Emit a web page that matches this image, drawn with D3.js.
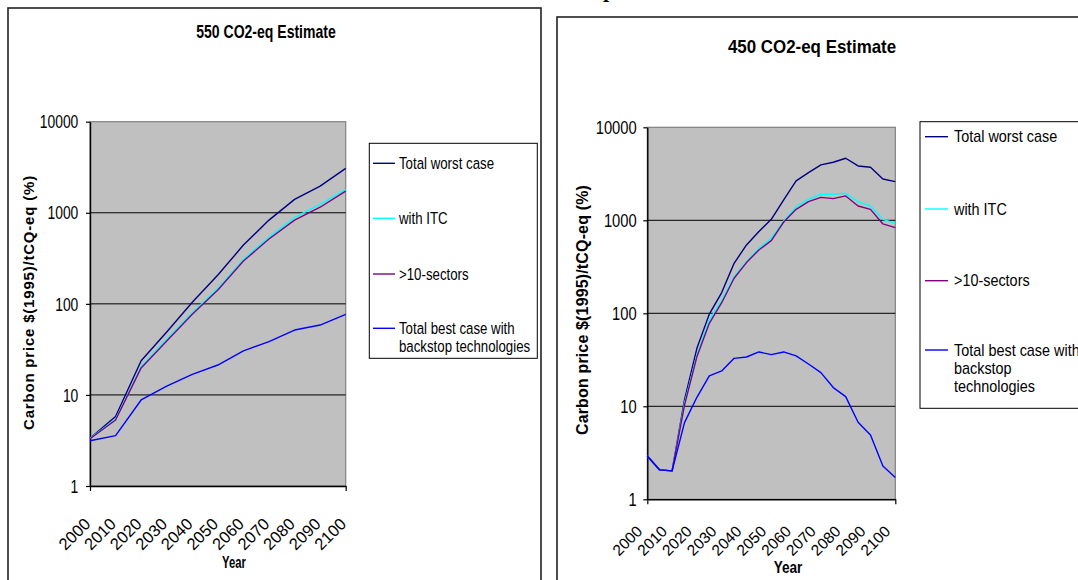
<!DOCTYPE html>
<html>
<head>
<meta charset="utf-8">
<script src="https://cdn.jsdelivr.net/npm/d3@7"></script>
<style>
  html, body { margin: 0; padding: 0; background: #fff; }
  svg { display: block; }
</style>
</head>
<body>
<div id="chart"></div>
<script>
// categories and tick labels
const yTicks = [1, 10, 100, 1000, 10000];
const xTickYears = [2000, 2010, 2020, 2030, 2040, 2050, 2060, 2070, 2080, 2090, 2100];
const seriesNames = ["Total worst case", "with ITC", ">10-sectors", "Total best case with backstop technologies"];
const seriesColors = ["#000080", "#00ffff", "#800080", "#0000ff"];

// 550 CO2-eq, one point every 10 years
const years550 = [2000, 2010, 2020, 2030, 2040, 2050, 2060, 2070, 2080, 2090, 2100];
const worst550 = [3.34, 5.8, 23.7, 49, 104, 207, 442, 831, 1403, 1964, 3070];
const itc550 = [3.34, 5.4, 20.4, 40.8, 80, 148, 308, 537, 890, 1237, 1806];
const sectors550 = [3.3, 5.3, 19.8, 39, 77, 142, 295, 515, 830, 1150, 1730];
const best550 = [3.14, 3.57, 8.8, 12.5, 16.8, 21.3, 30.5, 38.4, 51.6, 58.5, 76.7];

// 450 CO2-eq, one point every 5 years
const years450 = [2000, 2005, 2010, 2015, 2020, 2025, 2030, 2035, 2040, 2045, 2050,
                  2055, 2060, 2065, 2070, 2075, 2080, 2085, 2090, 2095, 2100];
const worst450 = [2.92, 2.07, 2.02, 11.7, 42, 98, 167, 345, 543, 756, 1025,
                  1655, 2650, 3260, 3940, 4210, 4645, 3840, 3715, 2782, 2606];
const itc450 = [2.92, 2.07, 2.02, 10.8, 35.6, 84.8, 137, 248, 359, 500, 640,
                984, 1403, 1683, 1905, 1905, 1951, 1585, 1426, 1025, 929];
const sectors450 = [2.92, 2.07, 2.02, 10.3, 34.2, 78, 130, 238, 351, 480, 604,
                    959, 1312, 1585, 1766, 1710, 1828, 1426, 1312, 914, 834];
const best450 = [2.92, 2.07, 2.02, 6.67, 12.5, 21.2, 24, 32.8, 33.9, 38.4, 36,
                 38.4, 34.8, 28.5, 23, 15.9, 12.7, 6.73, 4.92, 2.28, 1.72];

const W = 1078, H = 580;
const FONT = "'Liberation Sans', Arial, Helvetica, sans-serif";

const svg = d3.select("#chart").append("svg")
  .attr("width", W)
  .attr("height", H);

// text helper: squeezes horizontally like the scanned original
function txt(g, x, y, s, o) {
  return g.append("text")
    .attr("transform", `translate(${x},${y}) scale(${o.sx || 1},1)${o.rot ? ` rotate(${o.rot})` : ""}`)
    .attr("font-family", o.family || FONT)
    .attr("font-size", o.size)
    .attr("font-weight", o.bold ? "bold" : "normal")
    .attr("text-anchor", o.anchor || "start")
    .attr("dominant-baseline", o.baseline || "auto")
    .attr("letter-spacing", o.ls || 0)
    .attr("fill", "#000")
    .text(s);
}

// cut-off text of the page above
txt(svg, 603, -3, "p", { size: 22, bold: true, family: "'Liberation Serif', 'Times New Roman', serif" });

function drawPanel(p) {
  const g = svg.append("g");

  // chart frame
  g.append("rect")
    .attr("x", p.frame[0]).attr("y", p.frame[1])
    .attr("width", p.frame[2]).attr("height", p.frame[3])
    .attr("fill", "#fff").attr("stroke", "#222").attr("stroke-width", 1.6);

  const x = d3.scaleLinear().domain([2000, 2100]).range([p.left, p.right]);
  const y = d3.scaleLog().domain([1, 10000]).range([p.bottom, p.top]);

  g.append("rect")
    .attr("x", p.left).attr("y", p.top)
    .attr("width", p.right - p.left).attr("height", p.bottom - p.top)
    .attr("fill", "#c0c0c0").attr("stroke", "#808080").attr("stroke-width", 1.2);

  // gridlines
  g.selectAll(".grid").data([10, 100, 1000]).enter().append("line")
    .attr("x1", p.left).attr("x2", p.right)
    .attr("y1", d => y(d)).attr("y2", d => y(d))
    .attr("stroke", "#000").attr("stroke-width", 1);

  // axes
  const ya = g.append("g")
    .attr("transform", `translate(${p.left},0)`)
    .call(d3.axisLeft(y).tickValues(yTicks).tickSize(4).tickSizeOuter(0).tickFormat(""));
  const xa = g.append("g")
    .attr("transform", `translate(0,${p.bottom})`)
    .call(d3.axisBottom(x).tickValues([2000, 2100]).tickSize(5).tickSizeOuter(0).tickFormat(""));
  [ya, xa].forEach(a => {
    a.select(".domain").attr("stroke", "#000").attr("stroke-width", 1.4);
    a.selectAll(".tick line").attr("stroke", "#000").attr("stroke-width", 1.2);
  });

  // y tick labels
  yTicks.forEach(v => {
    txt(g, p.left - p.yLabelGap, y(v), String(v),
      { size: 18, sx: p.sxTick, anchor: "end", baseline: "central" });
  });

  // x tick labels, rotated
  xTickYears.forEach(yr => {
    txt(g, x(yr) + p.xLabDx, p.bottom + p.xLabDy, String(yr),
      { size: p.xLabSize, anchor: "end", rot: -45 });
  });

  // lines
  const line = d3.line()
    .x(d => x(d[0]))
    .y(d => y(d[1]));
  p.series.forEach((vals, i) => {
    g.append("path")
      .datum(p.years.map((yr, j) => [yr, vals[j]]))
      .attr("d", line)
      .attr("fill", "none")
      .attr("stroke", seriesColors[i])
      .attr("stroke-width", 1.4)
      .attr("stroke-linejoin", "round");
  });

  // titles
  txt(g, p.title[0], p.title[1], p.titleText, { size: 18, bold: true, sx: p.sxTitle, anchor: "middle" });
  txt(g, p.yTitle[0], p.yTitle[1], "Carbon price $(1995)/tCQ-eq  (%)",
    { size: p.yTitleSize, bold: true, rot: -90, anchor: "middle", baseline: "central", ls: p.yTitleLs });
  txt(g, p.xTitle[0], p.xTitle[1], "Year", { size: 17, bold: true, sx: p.sxTitle * 0.85, anchor: "middle" });

  // legend
  const L = p.legend;
  g.append("rect")
    .attr("x", L.box[0]).attr("y", L.box[1])
    .attr("width", L.box[2]).attr("height", L.box[3])
    .attr("fill", "#fff").attr("stroke", "#000").attr("stroke-width", 1);
  seriesNames.forEach((name, i) => {
    const ly = L.rows[i];
    g.append("line")
      .attr("x1", L.line[0]).attr("x2", L.line[1])
      .attr("y1", ly).attr("y2", ly)
      .attr("stroke", seriesColors[i]).attr("stroke-width", 1.4);
    const lines = L.wrap[i];
    lines.forEach((s, k) => {
      txt(g, L.textX, ly + k * L.lineH, s, { size: L.size, sx: L.sx, baseline: "central" });
    });
  });
}

drawPanel({
  frame: [8, 8, 533, 600],
  left: 90, right: 345.7, top: 121.7, bottom: 486,
  years: years550,
  series: [worst550, itc550, sectors550, best550],
  titleText: "550 CO2-eq Estimate",
  title: [266, 37.5], sxTitle: 0.78,
  yTitle: [28.5, 302.5], yTitleSize: 15, yTitleLs: 0.8,
  xTitle: [234, 568],
  sxTick: 0.77, yLabelGap: 11.7,
  xLabDx: 1.5, xLabDy: 39, xLabSize: 16.5,
  legend: {
    box: [369.3, 143.3, 168, 215],
    line: [373, 395], textX: 399, size: 17, sx: 0.78, lineH: 17.7,
    rows: [163.3, 218.3, 274, 328.3],
    wrap: [["Total worst case"], ["with ITC"], [">10-sectors"], ["Total best case with", "backstop technologies"]]
  }
});

drawPanel({
  frame: [557, 17, 600, 600],
  left: 647.3, right: 895.3, top: 127.3, bottom: 499.3,
  years: years450,
  series: [worst450, itc450, sectors450, best450],
  titleText: "450 CO2-eq Estimate",
  title: [812, 53], sxTitle: 0.94,
  yTitle: [582.5, 310], yTitleSize: 16, yTitleLs: 0.15,
  xTitle: [788, 573],
  sxTick: 0.82, yLabelGap: 10.6,
  xLabDx: -4, xLabDy: 33, xLabSize: 15.5,
  legend: {
    box: [920, 121.7, 200, 286.6],
    line: [925, 948], textX: 954, size: 16, sx: 0.9, lineH: 18.3,
    rows: [136.7, 209, 280.7, 350],
    wrap: [["Total worst case"], ["with ITC"], [">10-sectors"], ["Total best case with", "backstop", "technologies"]]
  }
});
</script>
</body>
</html>
